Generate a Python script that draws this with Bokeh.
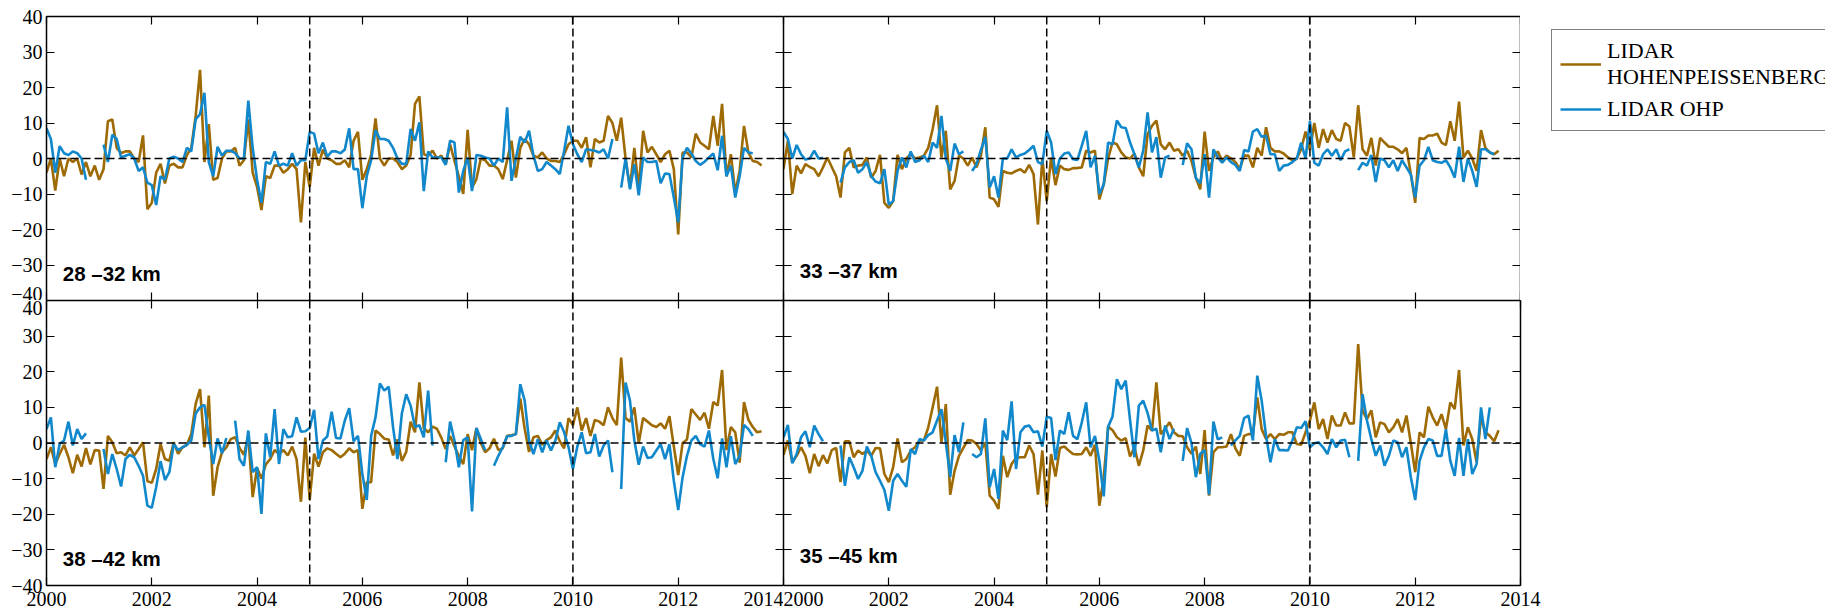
import numpy as np
from bokeh.plotting import figure
from bokeh.models import (Range1d, LinearAxis, FixedTicker, Span, Label,
                          Legend, LegendItem)
from bokeh.layouts import column, row
from bokeh.embed import file_html
from bokeh.resources import INLINE

nan = float("nan")

# ---------------- data (monthly anomalies, %, starting Jan 2000) ----------------
PANEL_LABELS = ["28 –32 km", "33 –37 km", "38 –42 km", "35 –45 km"]
SERIES_NAMES = ["LIDAR\nHOHENPEISSENBERG", "LIDAR OHP"]
X_TICKS = [2000, 2002, 2004, 2006, 2008, 2010, 2012, 2014]
Y_TICKS = [-40, -30, -20, -10, 0, 10, 20, 30, 40]
Y_TICK_TEXT = {-40: "−40", -30: "−30", -20: "−20", -10: "−10", 0: "0",
               10: "10", 20: "20", 30: "30", 40: "40"}
BREAK_YEARS = [2005, 2010]

hoh_28_32 = [
    -4, 0, -9, 0, -5, 0, -1, 0, -4.5, -1, -5, -2,
    -6, -3, 10.5, 11, 3, 1.5, 2, 2, 0, -1, 6.5, -14.3,
    -12.5, -4, -1.5, -7, -2, -1.5, -2.5, -2.5, 1, 3, 12, 25,
    -1, 9.7, -6, -5.5, 0, 2, 2, 3, -2, -0.5, 11, -4,
    -8, -14.5, -5, -5.5, -2, -2, -4, -3, -1.5, -3, -18, -1,
    -8, 3, -2, 2.5, 0, -0.5, -1.5, -1.5, -0.5, -2.5, 5, 7.5,
    -6, -3, 1, 11.3, 0, -2, 0, 0, -1, -3, -2, 1,
    15.4, 17.5, 1.2, 0.8, 2.2, 0, 0.8, -1.6, 4, -0.7, -5, -10,
    8.1, -8.2, -5.8, 0, -0.5, -2, -2, -3, -5.8, -0.5, 5, -5.4,
    3, 5.5, 4, 0.8, 0.3, 1.7, 0, -0.7, -0.7, -1, 1.2, 4,
    5, 5, 3, 6, -2.5, 5.5, 4.5, 5, 12, 10, 5, 11.5,
    0, -8.2, 3, -8.7, 7.8, 1.7, 3.3, 1.2, -1, 1.2, 2.2, -3,
    -21.4, 1.7, 1.7, 0.3, 7, 4.5, 3.6, 2.6, 12, 3.6, 15.4, -5,
    1.2, -9.6, -3.5, 9.2, 1.7, -0.7, -1, -2,
]
ohp_28_32 = [
    8.5, 5.5, -4, 3.5, 1.5, 1, 2, 1.5, 0, -6, nan, nan,
    nan, 3.9, -1, 6.7, 5.5, 0.3, 0.8, 1.2, 0, -3.5, -2.5, -6.8,
    -7.5, -13.1, -5, -6, 0, 0.5, 0, -1, 3, 2, 11, 12.5,
    18.5, -1, -5, 3.3, 0.8, 2.2, 2.2, 1.5, 0, 0, 16.3, 3,
    -6, -12.5, -1, -1.5, 2, -2, -1.5, -2, 1.5, -2, -0.5, -0.5,
    7.5, 7, 1.5, 4.5, 0.5, 2, 2, 1.5, 2.5, 8.5, -3, -3,
    -14, -5, -0.5, 8, 5.5, 5.5, 5, 3, 0, -1.5, -1.5, 8.3,
    5, 10.2, -9.2, 2, 0.3, 0.3, 0.3, -1.8, 5, 4.5, -9.6, -3.5,
    0.3, -9.2, 1, 0.8, 0.3, 0, -2, 0, -1, 14.4, -6.3, 0,
    6.1, 4.5, 7.8, 0.8, -3.5, -3, -1, -2, -3, -4.4, 2.2, 9.2,
    4, 1.2, -1, 2.6, 2.4, 2.2, 1.7, 2.6, 0, 5.5, nan, -8.2,
    0, -8.7, -1.6, -10.4, 0.3, -1, -1, -0.7, -7, -4.2, -4.4, -11,
    -18, 0.3, 3, 1.4, -0.7, -1.8, -0.9, 0.3, 1.4, -3.3, 6.4, -5,
    -2, -11, -5, 3, 1.7, 1.5,
]
hoh_33_37 = [
    -3, 5, -10, -2, -4.2, -1.6, -2.4, -3, -5, -2.5, 0.3, -2.4,
    -5, -11, 1.7, 3, -2.5, -2, -1.8, 0.3, -5.4, -3.5, 1, -12.5,
    -13.9, -12, 1, -3, 0, 1.2, 0, 0.3, 0.8, 3, 8.3, 15,
    0.3, 7.8, -8.7, -6.3, 0.8, 0, -2, 0.3, -2.5, 0.8, 8.8, -11,
    -11.5, -13.6, -3.5, -4, -4.2, -3.5, -3, -4, -1.8, -4.4, -18.6, 0,
    -12, 0.3, -7.5, -2, -3, -3.2, -2.7, -2.7, -2.5, 2.2, 1.7, 2.2,
    -11.5, -7.3, 0, 4.5, 4, 1.7, 0.3, 0, 1.4, -2.5, -5, 6.9,
    9.2, 10.7, 4, 2.6, 4.5, 2.2, 2.6, 0.8, 2.2, -0.7, -5.4, -8.7,
    7.6, -3.5, 0.3, 2, -0.7, 0.8, 0, -1, -3, 0.8, 0.8, -2.5,
    3, 0.8, 8.8, 3, 2, 2, 1.4, 0.3, -0.5, 0, 2.6, 7.6,
    2.4, 10, 3, 8.3, 4.5, 8, 5.5, 5, 10, 9, 0.3, 15,
    2.6, 0.8, 5.8, -2, 5.8, 4.5, 3.3, 3.3, 2.6, 1.5, 3, -4.4,
    -12.5, 5.8, 5.5, 6.5, 6.5, 7, 4.5, 3.8, 10.5, 5, 16, 0.3,
    2.2, 0, -3.5, 8, 3, 1.7, 1.2, 2.2,
]
ohp_33_37 = [
    7.5, 5.5, 0, 3.8, 1.2, -0.3, 0, 2.2, 0, 0.2, nan, nan,
    nan, -6.8, -2.5, -1, -0.5, -4, -3, -1, -5, -6.5, -7, -3,
    -13, -12, -3.5, 0.3, -2.5, 2, -1, -0.5, 0.8, -1, 4.5, 3,
    12, 0, -3.5, 4.2, 1.2, 2, nan, -3.5, -1.6, 2.4, 6.1, -8.2,
    -5, -11, 0, 0, 2.6, 0.3, 1, 1.4, 2.4, 3.6, -1, -1.6,
    7.8, 4.5, -4.4, 0, 1.4, 1.7, -0.2, -0.4, 3.6, 7.8, -2.5, 0.8,
    -10, -7.3, 4.5, 4, 10.7, 8.8, 8.6, 4.5, 1.2, -2.5, 2.2, 13,
    1.7, 6, -5.4, 0.3, 0.8, nan, nan, -1.8, 4.3, 2.6, -5.4, -7,
    1.2, -11, 2.6, 0.3, -1.2, 0.3, -1, -1.8, -3.5, 2.4, 2, 7.6,
    8.3, 6.1, 6.4, 1.2, 1.2, -3.5, -2, -1.8, -1, 0, 4.5, 0,
    10.5, -1.2, -2, 1.2, 2.6, 0.8, 2.6, -0.5, 2, 2.6, nan, -3.3,
    -1.2, -2, 1, -6.6, 0, -0.5, -2.5, -0.5, -3.5, -0.5, -2.5, -4.5,
    -11, -2, -0.5, 3.3, -0.5, -1, -1.2, -0.5, -2.5, -5.4, 3.3, -6.6,
    0, -3.5, -8, 2.6, 2.6, 1.7, 1.2,
]
hoh_38_42 = [
    -4.5, -1.2, -5.9, -3.1, -0.5, -4, -8.5, -3.3, -6.6, -1.4, -6, -2,
    -2.1, -12.9, 2, 0.2, -2.9, -2.6, -3.5, -1.2, -3.5, -1.7, 0.2, -10.7,
    -11.2, -7.3, -0.3, -4.5, -5, 0.2, -3, -1.2, -0.5, 2.5, 11, 15.1,
    -1.2, 13.3, -14.8, -6.8, -2.6, -1.2, 1.1, 1.6, -1.4, -3.3, 2, -15.2,
    -7, -10, -6, -4.5, -2, -3, -2, -3.5, -1, -4.5, -16.5, 1.5,
    -16, -3, -6.6, -2.6, -1.5, -2, -3, -4, -3, -1.5, -2.6, -2,
    -18.5, -11, -11, 3.5, 2.5, 1.2, 1, -3.5, 1, -5, -2.5, 6,
    3, 17, 4.2, 3, 4.6, 4, 1.5, -1.7, 2, -1, -3.6, -5.9,
    2.5, -2, 4.2, 0, -2.6, -1.5, 1.2, -2, -1.5, 2, 2.2, 2.5,
    12.5, 4, -2.5, 1.6, 2, -0.5, 0.8, 1.6, 3.5, 0.5, -1.5, 7,
    5, 10, 3.5, 7, 2, 6.5, 6, 5, 10, 7, 5, 24,
    7, 6, 10, 0, 7, 6, 5, 4.5, 5.5, 4, 7.5, -1,
    -9, 0, 1, 9.5, 8, 6.5, 8.5, 4, 11.5, 10.5, 20.5, -2,
    4.5, 3, -5.5, 11.5, 6.5, 4.5, 3, 3.3,
]
ohp_38_42 = [
    3.9, 7.2, -6.8, -0.3, 0.7, 6, -0.7, 3.9, 1.1, 2.7, nan, nan,
    nan, -1.7, -8.7, -3.1, -7.3, -12.2, -4.5, -3.3, -4, -6.4, -9.2, -17.6,
    -18.2, -12.4, -5.1, -10.4, -8.2, -0.3, -2, -1.2, -0.5, 0.7, 8.3, 10,
    10.7, 1.6, -5.9, 1.3, -2.9, 1.4, nan, 6.3, -4.5, -6.4, 3.5, -8.2,
    -6.8, -19.9, 2.7, -4, 9.5, -5.9, 3.9, 1.6, 1.9, 7.2, 3.2, 3.3,
    4.2, 9.3, -4.5, 0.7, 1.8, 8.8, 1.4, 1.3, 6.3, 9.8, 0.5, 2,
    -8.7, -16, 2, 7.2, 16.7, 14.7, 15.8, 4.4, -4.5, 8.3, 13.7, 10.5,
    4.5, 5, 1.6, 14.7, -0.7, nan, nan, -5.4, 6, 0.7, -6.8, 0.8,
    1.6, -19.2, 4.2, 1.1, -2.1, nan, -6.4, -3.6, -1.2, 1.9, 2, 2.5,
    16.5, 11.9, 0.7, -3.1, 1.1, -2.6, 0.8, -2.1, 0.7, 5.8, 3, -1.2,
    -7.3, -1, 3, -2.9, -2.6, 2.5, -3.8, -0.7, 0.7, -8.2, nan, -12.9,
    17, 11.9, 0.7, -6.1, -1, -4.2, -4, -2.1, -0.3, -4.5, -0.3, -10.6,
    -18.8, -9.6, -3.6, 0.7, 2, -0.3, -1, 3.5, -4.5, -9.9, 1.3, -6.8,
    1.9, -5.9, -3.6, 5.1, 3.9, 2,
]
hoh_35_45 = [
    -3.3, 0.7, -5.4, -3.6, -1.2, -3.6, -8.5, -3.1, -6.5, -3.4, -5.7, -2,
    -1.4, -11, 0.5, 0.5, -4, -2.1, -3.1, -2.1, -3.6, -1.4, -1.5, -8.7,
    -11, -6.8, 1.3, -5.4, -4.5, -2.1, -1.2, 0.7, 0.7, 4.4, 10, 15.8,
    0.2, 10.9, -14.5, -7.8, -3.6, -1.4, 0.8, 0.7, -0.3, -2.1, 0.2, -14.8,
    -16.2, -18.5, -3.6, -9.6, -5.9, -4.2, -4, -4, -0.7, -3.1, -14.5, -2.1,
    -18, -3.1, -9.4, -1.4, -1, -2.1, -3.1, -3.2, -3.1, -1.2, -3.6, -0.5,
    -17.6, -9.6, 4.6, 3.6, 1.6, 0.7, 1.4, -3.8, -1.2, -6.4, -2.1, 4.9,
    3.5, 17, 2.5, 4, 5.8, 3, 2, 1.9, -1.2, -3, -1, -8.7,
    3.6, -14.8, -2.6, -1.2, -1.2, -1, 2.5, -1.5, -3.6, 2, 2.5, 2.5,
    12.8, 3.9, 1.1, 2.5, 1.1, 2.5, 2.3, 3, 3, -0.3, -0.5, 3,
    6.3, 11.4, 3.9, 6.7, 1.1, 7.7, 4.9, 4.9, 8.6, 5.5, 5.5, 27.8,
    9, 6.7, 9.2, 1.6, 5.8, 5.3, 3, 4.4, 6.7, 3, 7.7, 0,
    -8.2, 3, 1.6, 10.2, 7.2, 4.9, 8.1, 3.9, 11.4, 9.5, 20.5, -0.7,
    4.4, 1.1, -5.4, 7.2, 3, 2, 0.5, 3.6,
]
ohp_35_45 = [
    1.6, 5.1, -5.7, -3.1, 1.6, 3.3, -1.2, 4.9, 2.5, 0.5, nan, nan,
    nan, -0.7, -12, -4, -6.8, -10.1, -7.8, -1, -3.6, -8.2, -10.6, -13.2,
    -19, -10.6, -8.7, -10.6, -12.3, -1.7, -3.1, 1.1, 0.7, 2.2, 3, 6.3,
    9.5, 0.2, -9.6, 2.2, -2.6, 5.8, nan, -3.1, -4, -3.1, 6.9, -12.4,
    -7.3, -15.7, 3.5, 0.8, 11.7, -7.3, 3, 4.6, 4.9, 3, 3.3, -1,
    7.4, 7, -4.8, 3.5, 2.5, 8.6, 2, 1.1, 5.8, 11.4, -1.2, 2,
    -5, -15, 4.6, 7.4, 17.9, 15.1, 17.5, 6.4, -4, 10.5, 11.9, 8.4,
    3.5, 4, -2.6, 4.9, 1.1, 4, nan, -5, 4.2, 0, -9.6, -3,
    -2, -14.5, 6, 1, 1.6, nan, -0.7, 0.7, 2, 7, 7.7, 0.7,
    18.9, 11.9, 2, -5.4, 1.1, -2, -2, -2.1, 0.7, 4.4, 4.2, 6.1,
    -1.2, -0.1, 0.2, -1.2, -3.1, 1.1, -1.2, 0.7, 0.9, -4, nan, -5,
    13.7, 6.3, 1.1, -3.6, -0.7, -6.4, -3.6, 0.7, 0.2, -4, -1.2, -9.6,
    -16, -5, -1.2, 1.1, 0.7, -3.6, -3.6, 3.9, -5, -9.2, 1.4, -9.2,
    1.1, -8.7, -5.9, 10, 1.1, 10,
]

HOH_COLOR = "#9E6A03"
OHP_COLOR = "#1188CC"
SERIF = "Liberation Serif"
TICK_SIZE = "20px"
FRAME_W = 737
LINE_W = 2.6


def months_to_years(values):
    return 2000 + np.arange(len(values)) / 12.0


def add_axis(p, side, show_labels, ticks, overrides=None, standoff=4):
    ax = LinearAxis(ticker=FixedTicker(ticks=ticks, minor_ticks=[]))
    ax.major_tick_in = 8
    ax.major_tick_out = 0
    ax.minor_tick_in = 0
    ax.minor_tick_out = 0
    ax.axis_line_width = 1.5
    ax.axis_line_color = "black"
    ax.major_tick_line_width = 1.2
    ax.major_tick_line_color = "black"
    if show_labels:
        ax.major_label_text_font = SERIF
        ax.major_label_text_font_size = TICK_SIZE
        ax.major_label_text_color = "black"
        ax.major_label_standoff = standoff
        if overrides:
            ax.major_label_overrides = overrides
    else:
        ax.major_label_text_font_size = "0px"
        ax.major_label_text_color = None
        ax.major_label_standoff = 0
    p.add_layout(ax, side)
    return ax


def make_panel(hoh, ohp, label, label_y, left_labels, bottom_labels,
               frame_h, mbl, mbr, mbt, mbb):
    p = figure(frame_width=FRAME_W, frame_height=frame_h,
               x_range=Range1d(2000, 2014), y_range=Range1d(-40, 40),
               x_axis_location=None, y_axis_location=None,
               toolbar_location=None, output_backend="svg",
               min_border_left=mbl, min_border_right=mbr,
               min_border_top=mbt, min_border_bottom=mbb)
    p.grid.visible = False
    p.outline_line_color = None
    p.background_fill_color = "white"
    p.border_fill_color = "white"

    add_axis(p, "left", left_labels, Y_TICKS, Y_TICK_TEXT)
    add_axis(p, "right", False, Y_TICKS)
    add_axis(p, "below", bottom_labels, X_TICKS, standoff=6)
    add_axis(p, "above", False, X_TICKS)

    p.add_layout(Span(location=0, dimension="width", line_color="black",
                      line_dash="8 4", line_width=1.5))
    for yr in BREAK_YEARS:
        p.add_layout(Span(location=yr, dimension="height", line_color="black",
                          line_dash="8 4", line_width=1.5))

    p.line(months_to_years(hoh), np.array(hoh, dtype=float),
           line_color=HOH_COLOR, line_width=LINE_W)
    p.line(months_to_years(ohp), np.array(ohp, dtype=float),
           line_color=OHP_COLOR, line_width=LINE_W)

    p.add_layout(Label(x=2000.31, y=label_y, text=label,
                       text_font="Liberation Sans", text_font_style="bold",
                       text_font_size="20.5px", text_color="black",
                       text_baseline="alphabetic"))
    return p


tl = make_panel(hoh_28_32, ohp_28_32, PANEL_LABELS[0], -32.4,
                True, False, 284, 46, 0, 16, 0)
tr = make_panel(hoh_33_37, ohp_33_37, PANEL_LABELS[1], -31.5,
                False, False, 284, 0, 0, 16, 0)
bl = make_panel(hoh_38_42, ohp_38_42, PANEL_LABELS[2], -32.5,
                True, True, 285, 46, 0, 0, 30)
br = make_panel(hoh_35_45, ohp_35_45, PANEL_LABELS[3], -31.6,
                False, True, 285, 0, 305, 0, 30)

# legend panel: a plain figure filling the area right of the top-right panel.
# Its ranges lie outside the data, so the series lines only feed the legend keys.
lg = figure(width=305, height=300, x_range=Range1d(0, 1), y_range=Range1d(0, 1),
            x_axis_location=None, y_axis_location=None, toolbar_location=None,
            output_backend="svg", min_border_left=18, min_border_right=0,
            min_border_top=0, min_border_bottom=0)
lg.grid.visible = False
lg.outline_line_color = None
lg.border_fill_color = "white"
lg.background_fill_color = "white"
k1 = lg.line(months_to_years(hoh_33_37), np.array(hoh_33_37, dtype=float),
             line_color=HOH_COLOR, line_width=LINE_W)
k2 = lg.line(months_to_years(ohp_33_37), np.array(ohp_33_37, dtype=float),
             line_color=OHP_COLOR, line_width=LINE_W)

legend = Legend(items=[LegendItem(label=SERIES_NAMES[0], renderers=[k1]),
                       LegendItem(label=SERIES_NAMES[1], renderers=[k2])],
                location="top_left")
legend.label_text_font = SERIF
legend.label_text_font_size = "22px"
legend.label_text_color = "black"
legend.glyph_width = 41
legend.glyph_height = 22
legend.label_standoff = 6
legend.label_width = 250
legend.padding = 8
legend.spacing = 6
legend.margin = 13
legend.border_line_color = "black"
legend.border_line_width = 1
legend.background_fill_color = "white"
legend.background_fill_alpha = 1
lg.add_layout(legend)

layout = column(row(tl, tr, lg), row(bl, br))

open("out.html", "w").write(file_html(layout, INLINE))
